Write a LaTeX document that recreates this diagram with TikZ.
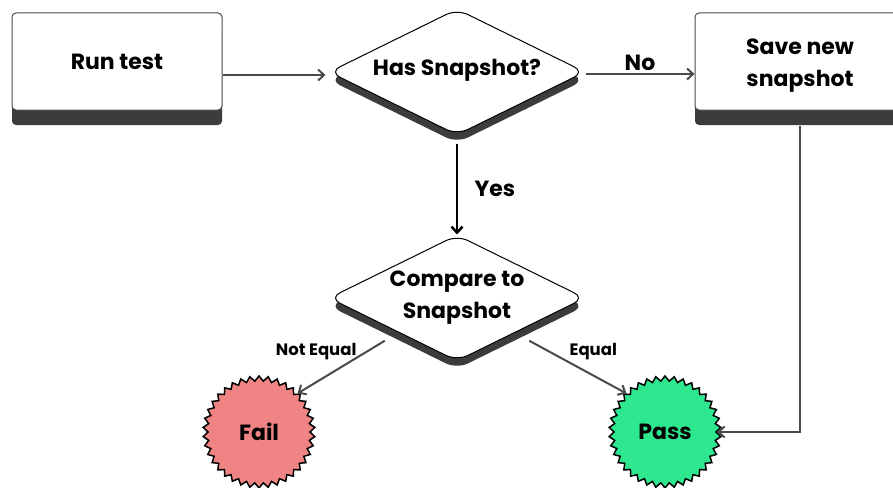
\documentclass[tikz,border=0pt]{standalone}
\usepackage{fontspec}
\setmainfont{Poppins}
\usetikzlibrary{shapes.geometric,shapes.symbols,arrows.meta,shadows,calc}
\definecolor{shade}{HTML}{3C3C3C}
\definecolor{edgec}{HTML}{4A4A4A}
\definecolor{failc}{HTML}{F08484}
\definecolor{passc}{HTML}{2DE88E}
\newcommand\mainsz{\bfseries\fontsize{22}{32}\selectfont}
\newcommand\smallsz{\bfseries\fontsize{16.5}{18}\selectfont}
\begin{document}
\begin{tikzpicture}[x=1pt,y=-1pt,
  box/.style={draw=edgec, line width=1pt, fill=white, rounded corners=4pt,
    minimum width=210pt, minimum height=97pt, inner sep=0pt, align=center,
    font=\mainsz, general shadow={fill=shade, shadow yshift=-15pt}},
  dec/.style={diamond, draw=black, line width=1pt, fill=white, rounded corners=12pt,
    minimum width=256pt, minimum height=126pt, inner sep=0pt,
    general shadow={fill=shade, shadow yshift=-8pt}},
  burst/.style={starburst, random starburst=0, starburst points=38,
    starburst point height=5pt, minimum size=112pt, draw=black, line width=1.5pt,
    inner sep=0pt, font=\mainsz},
  arr/.style={draw=edgec, line width=2pt, -{Straight Barb[length=6pt,width=11pt]}},
  lab/.style={font=\smallsz}
]
\useasboundingbox (0,0) rectangle (893,487);
\clip (0,0) rectangle (893,487);
\fill[white] (0,0) rectangle (893,487);

\node[box] (run) at (117,61.5) {Run test};
\node[box, label={[font=\mainsz, align=center, yshift=-4pt]center:Save new\\snapshot}] (save) at (800,61.5) {};
\node[dec, label={[font=\mainsz, yshift=2pt]center:Has Snapshot?}] (has) at (457,72) {};
\node[dec, label={[font=\mainsz, align=center]center:Compare to\\Snapshot}] (cmp) at (457,298) {};
\node[burst, fill=failc] (fail) at (259,432) {Fail};
\node[burst, fill=passc] (pass) at (665,432) {Pass};

\draw[arr, shorten >=3pt] ([yshift=-3pt]run.east |- has.west) -- ([yshift=-3pt]has.west);
\draw[arr] ([yshift=-2pt]has.east) -- ([yshift=-2pt]save.west |- has.east)
  node[midway, above=-1pt, font=\mainsz] {No};
\draw[arr, draw=black, line width=2.5pt] ([yshift=-8pt]has.south) -- (cmp.north)
  node[midway, right=13pt, font=\mainsz] {Yes};
\draw[arr] ([xshift=-8pt,yshift=-11pt]cmp.south west) -- (fail.45)
  node[pos=0, anchor=east, xshift=-24pt, yshift=-11pt, lab] {Not Equal};
\draw[arr] ([xshift=8pt,yshift=-11pt]cmp.south east) -- (pass.135)
  node[pos=0, anchor=west, xshift=36pt, yshift=-11pt, lab] {Equal};
\draw[arr] ([yshift=-15pt]save.south) |- (pass.east);
\end{tikzpicture}
\end{document}
